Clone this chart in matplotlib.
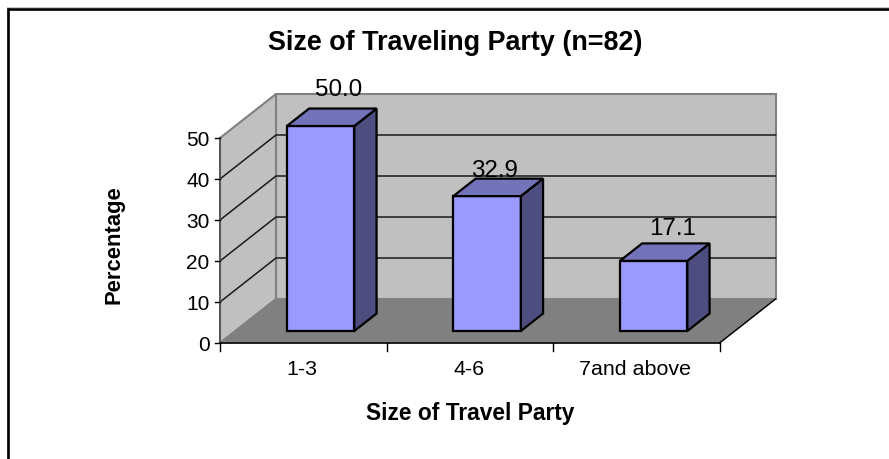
import matplotlib

matplotlib.use("Agg")
import matplotlib.pyplot as plt
from matplotlib.patches import Polygon

plt.rcParams["font.family"] = ["Liberation Sans", "DejaVu Sans"]

categories = ["1-3", "4-6", "7and above"]
percentages = [50.0, 32.9, 17.1]
value_ticks = [0, 10, 20, 30, 40, 50]

title = "Size of Traveling Party (n=82)"
xlabel = "Size of Travel Party"
ylabel = "Percentage"

W, H = 889, 460
X0, Y0 = 220, 344  # pixel of the front origin
CAT_PX, VAL_PX = 166.5, 4.1
DX, DY = 56, 44  # oblique offset of the back wall

BAR_LEFT, BAR_WIDTH = 0.31, 0.405
DEPTH_FRONT, DEPTH_BACK = 0.273, 0.67

# the value labels are not placed evenly in the original (pixels from bar back top)
LABEL_NUDGE = [(-4.5, 13.5), (-14.5, 3), (-3, 9.5)]


def proj(x, v, d=0.0):
    return x + d * DX / CAT_PX, v + d * DY / VAL_PX


def face(ax, pts, **kw):
    ax.add_patch(Polygon([proj(*p) for p in pts], closed=True, **kw))


fig = plt.figure(figsize=(W / 100, H / 100), dpi=100)
ax = fig.add_axes([0, 0, 1, 1])
ax.set_xlim(-X0 / CAT_PX, (W - X0) / CAT_PX)
ax.set_ylim((Y0 - H) / VAL_PX, Y0 / VAL_PX)
ax.axis("off")

n = len(categories)
top = value_ticks[-1]

# walls and floor
wall = dict(facecolor="#c0c0c0", edgecolor="#808080", linewidth=1.5, zorder=1)
face(ax, [(0, 0, 1), (n, 0, 1), (n, top, 1), (0, top, 1)], **wall)
face(ax, [(0, 0, 0), (0, 0, 1), (0, top, 1), (0, top, 0)], **wall)
face(ax, [(0, 0, 0), (n, 0, 0), (n, 0, 1), (0, 0, 1)], facecolor="#808080", edgecolor="#808080", linewidth=1, zorder=1)

# gridlines
for v in value_ticks[1:-1]:
    xs, ys = zip(proj(0, v, 0), proj(0, v, 1), proj(n, v, 1))
    ax.plot(xs, ys, color="#1a1a1a", lw=1.1, zorder=2, solid_joinstyle="miter")

# axis lines and ticks
xs, ys = zip(proj(0, 0, 0), proj(0, top, 0))
ax.plot(xs, ys, color="#555555", lw=1.3, zorder=3)
ax.plot([0, n], [0, 0], color="black", lw=1.1, zorder=3)
xs, ys = zip(proj(n, 0, 0), proj(n, 0, 1))
ax.plot(xs, ys, color="black", lw=1.0, zorder=3)
for v in value_ticks:
    ax.plot([-5 / CAT_PX, 0], [v, v], color="black", lw=1.0, zorder=3)
    ax.text(-10.5 / CAT_PX, v - 1.5 / VAL_PX, str(v), ha="right", va="center", fontsize=15, color="black")
for i in range(n + 1):
    ax.plot([i, i], [0, -8 / VAL_PX], color="black", lw=1.0, zorder=3)

# bars
edge = dict(edgecolor="black", linewidth=1.6, joinstyle="miter", zorder=5)
for i, (cat, val) in enumerate(zip(categories, percentages)):
    l = i + BAR_LEFT
    r = l + BAR_WIDTH
    f, b = DEPTH_FRONT, DEPTH_BACK
    face(ax, [(l, 0, f), (r, 0, f), (r, val, f), (l, val, f)], facecolor="#9999ff", **edge)
    face(ax, [(r, 0, f), (r, 0, b), (r, val, b), (r, val, f)], facecolor="#4d4d80", **edge)
    face(ax, [(l, val, f), (r, val, f), (r, val, b), (l, val, b)], facecolor="#7373b9", **edge)
    lx, ly = proj(l + BAR_WIDTH / 2, val, b)
    ndx, ndy = LABEL_NUDGE[i]
    ax.text(lx + ndx / CAT_PX, ly + ndy / VAL_PX, f"{val:.1f}", ha="center", va="baseline", fontsize=17.4, color="black", zorder=6)
    ax.text(i + 0.5 - 1 / CAT_PX, -26 / VAL_PX, cat, ha="center", va="center", fontsize=15.4, color="black")

# titles, placed in figure pixels
fig.text(455 / W, 1 - 42.5 / H, title, ha="center", va="center", fontsize=19.4, fontweight="bold")
fig.text(470.5 / W, 1 - 413.5 / H, xlabel, ha="center", va="center", fontsize=16.4, fontweight="bold")
fig.text(114 / W, 1 - 244.5 / H, ylabel, ha="center", va="center", rotation=90, fontsize=15.8, fontweight="bold")

# frame of the pasted chart: only top and left edges show
ax.plot([6.5 / W, 1], [1 - 8 / H, 1 - 8 / H], transform=ax.transAxes, color="#c8c8c8", lw=0.8, zorder=7)
ax.plot([6.5 / W, 6.5 / W], [0, 1 - 8 / H], transform=ax.transAxes, color="#c8c8c8", lw=0.8, zorder=7)
ax.plot([8 / W, 1], [1 - 10 / H, 1 - 10 / H], transform=ax.transAxes, color="black", lw=1.9, solid_capstyle="butt", zorder=8)
ax.plot([8 / W, 8 / W], [0, 1 - 10 / H], transform=ax.transAxes, color="black", lw=1.9, solid_capstyle="projecting", zorder=8)

fig.savefig("out.png", dpi=100)
